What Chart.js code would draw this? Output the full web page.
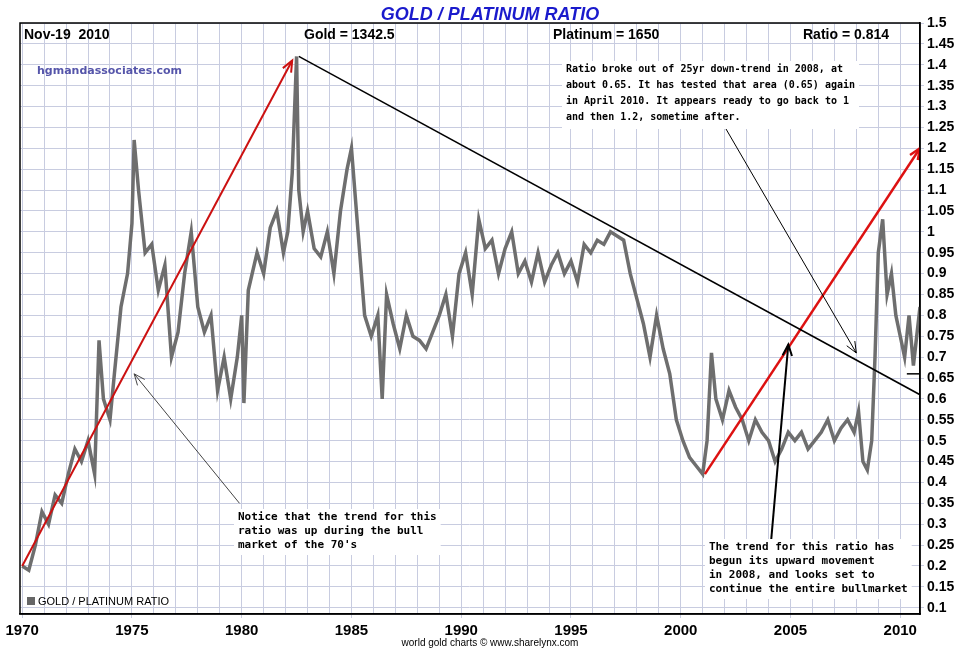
<!DOCTYPE html>
<html><head><meta charset="utf-8">
<script src="https://cdn.jsdelivr.net/npm/chart.js@4"></script>
<style>body{margin:0;background:#fff}canvas{display:block}</style>
</head><body>
<canvas id="c" width="980" height="650"></canvas>
<script>
// gold / platinum ratio
const years = [1970.0,1970.3,1970.6,1970.9,1971.2,1971.5,1971.8,1972.1,1972.4,1972.7,1973.0,1973.3,1973.5,1973.7,1974.0,1974.2,1974.5,1974.8,1975.0,1975.1,1975.3,1975.6,1975.9,1976.2,1976.5,1976.8,1977.1,1977.4,1977.7,1978.0,1978.3,1978.6,1978.9,1979.2,1979.5,1979.8,1980.0,1980.1,1980.3,1980.7,1981.0,1981.3,1981.6,1981.9,1982.1,1982.3,1982.5,1982.6,1982.8,1983.0,1983.3,1983.6,1983.9,1984.2,1984.5,1984.8,1985.0,1985.3,1985.6,1985.9,1986.2,1986.4,1986.6,1986.9,1987.2,1987.5,1987.8,1988.1,1988.4,1988.7,1989.0,1989.3,1989.6,1989.9,1990.2,1990.5,1990.8,1991.1,1991.4,1991.7,1992.0,1992.3,1992.6,1992.9,1993.2,1993.5,1993.8,1994.1,1994.4,1994.7,1995.0,1995.3,1995.6,1995.9,1996.2,1996.5,1996.8,1997.1,1997.4,1997.7,1998.0,1998.3,1998.6,1998.9,1999.2,1999.5,1999.8,2000.1,2000.4,2000.7,2001.0,2001.2,2001.4,2001.6,2001.9,2002.2,2002.5,2002.8,2003.1,2003.4,2003.7,2004.0,2004.3,2004.6,2004.9,2005.2,2005.5,2005.8,2006.1,2006.4,2006.7,2007.0,2007.3,2007.6,2007.9,2008.1,2008.3,2008.5,2008.7,2008.85,2009.0,2009.2,2009.4,2009.6,2009.8,2010.0,2010.2,2010.4,2010.6,2010.75,2010.9];
const ratio = [0.20,0.19,0.25,0.33,0.30,0.37,0.35,0.42,0.48,0.45,0.50,0.42,0.74,0.60,0.55,0.66,0.82,0.90,1.02,1.22,1.10,0.95,0.97,0.86,0.92,0.70,0.76,0.90,1.00,0.82,0.76,0.80,0.62,0.70,0.60,0.70,0.80,0.59,0.86,0.95,0.90,1.01,1.05,0.95,1.00,1.14,1.42,1.10,1.00,1.05,0.96,0.94,1.00,0.90,1.05,1.15,1.20,1.00,0.80,0.75,0.80,0.60,0.85,0.78,0.72,0.80,0.75,0.74,0.72,0.76,0.80,0.85,0.75,0.90,0.95,0.85,1.03,0.96,0.98,0.90,0.96,1.00,0.90,0.93,0.88,0.95,0.88,0.92,0.95,0.90,0.93,0.88,0.97,0.95,0.98,0.97,1.00,0.99,0.98,0.90,0.84,0.78,0.70,0.80,0.72,0.66,0.55,0.50,0.46,0.44,0.42,0.50,0.71,0.60,0.55,0.62,0.58,0.55,0.50,0.55,0.52,0.50,0.45,0.48,0.52,0.50,0.52,0.48,0.50,0.52,0.55,0.50,0.53,0.55,0.52,0.57,0.45,0.43,0.50,0.70,0.95,1.03,0.85,0.90,0.80,0.75,0.70,0.80,0.68,0.75,0.82,0.79,0.81];
const yearTicks = [1970,1975,1980,1985,1990,1995,2000,2005,2010];

const notes = {
  id: 'notes',
  afterDatasetsDraw(chart) {
    const c = chart.ctx, x = chart.scales.x, y = chart.scales.y, a = chart.chartArea;
    const P = (yr, v) => [x.getPixelForValue(yr), y.getPixelForValue(v)];
    c.save();
    c.beginPath(); c.rect(a.left, a.top, a.right - a.left, a.bottom - a.top); c.clip();
    function seg(p, q, col, w, head) {
      c.strokeStyle = col; c.lineWidth = w;
      c.beginPath(); c.moveTo(p[0], p[1]); c.lineTo(q[0], q[1]); c.stroke();
      if (head) {
        const ang = Math.atan2(q[1] - p[1], q[0] - p[0]);
        c.beginPath();
        c.moveTo(q[0] - 12 * Math.cos(ang - 0.4), q[1] - 12 * Math.sin(ang - 0.4));
        c.lineTo(q[0], q[1]);
        c.lineTo(q[0] - 12 * Math.cos(ang + 0.4), q[1] - 12 * Math.sin(ang + 0.4));
        c.stroke();
      }
    }
    seg(P(1970, 0.2), P(1982.3, 1.41), '#cc1111', 2, true);
    seg(P(2001.1, 0.42), P(2010.9, 1.2), '#dd1111', 2.5, true);
    seg(P(1982.6, 1.42), P(2010.9, 0.61), '#000', 1.5, false);
    seg(P(1979.9, 0.35), P(1975.1, 0.66), '#444', 1, true);
    seg(P(2001.8, 1.27), P(2008.0, 0.71), '#000', 1, true);
    seg(P(2004.1, 0.25), P(2004.9, 0.73), '#000', 2, true);
    seg(P(2010.3, 0.66), P(2010.9, 0.66), '#000', 1.5, false);

    c.font = 'bold 11px "DejaVu Sans Mono"'; c.textBaseline = 'top';
    function box(px, py, lines, lh) {
      const w = Math.max(...lines.map(l => c.measureText(l).width)) + 8;
      c.fillStyle = '#fff'; c.fillRect(px - 4, py - 3, w, lines.length * lh + 4);
      c.fillStyle = '#000';
      lines.forEach((l, i) => c.fillText(l, px, py + i * lh));
    }
    box(238, 512, ['Notice that the trend for this', 'ratio was up during the bull', "market of the 70's"], 14);
    box(709, 542, ['The trend for this ratio has', 'begun its upward movement', 'in 2008, and looks set to', 'continue the entire bullmarket'], 14);
    c.font = 'bold 10px "DejaVu Sans Mono"';
    box(566, 64, ['Ratio broke out of 25yr down-trend in 2008, at', 'about 0.65. It has tested that area (0.65) again', 'in April 2010. It appears ready to go back to 1', 'and then 1.2, sometime after.'], 16);

    c.fillStyle = '#5555aa'; c.font = 'bold 11px "DejaVu Sans"';
    c.fillText('hgmandassociates.com', 37, 66);
    c.fillStyle = '#000'; c.font = 'bold 14px "Liberation Sans"';
    c.fillText('Nov-19  2010', 24, 28);
    c.fillText('Gold = 1342.5', 304, 28);
    c.fillText('Platinum = 1650', 553, 28);
    c.fillText('Ratio = 0.814', 803, 28);
    c.fillStyle = '#666'; c.fillRect(27, 597, 8, 8);
    c.fillStyle = '#000'; c.font = '11px "Liberation Sans"';
    c.fillText('GOLD / PLATINUM RATIO', 38, 596);
    c.restore();
    c.save();
    c.strokeStyle = '#000'; c.lineWidth = 1.5;
    c.strokeRect(a.left, a.top, a.right - a.left, a.bottom - a.top);
    c.fillStyle = '#1a1acc'; c.font = 'italic bold 18px "Liberation Sans"'; c.textAlign = 'center';
    c.fillText('GOLD / PLATINUM RATIO', 490, 20);
    c.fillStyle = '#000'; c.font = '10px "Liberation Sans"';
    c.fillText('world gold charts \u00a9 www.sharelynx.com', 490, 646);
    c.restore();
  }
};

new Chart(document.getElementById('c'), {
  type: 'line',
  data: {
    datasets: [{
      data: years.map((yr, i) => ({ x: yr, y: ratio[i] })),
      borderColor: '#6e6e6e', borderWidth: 3.5, pointRadius: 0, tension: 0
    }]
  },
  options: {
    responsive: false, animation: false,
    layout: { padding: { left: 20, top: 23, right: 0, bottom: 0 } },
    plugins: { legend: { display: false }, tooltip: { enabled: false } },
    scales: {
      x: {
        type: 'linear', min: 1969.9, max: 2010.9,
        afterBuildTicks: s => { s.ticks = yearTicks.map(v => ({ value: v })); },
        afterFit: s => { s.height = 36; },
        grid: { color: '#c8cce0', drawTicks: true, tickLength: 4 },
        border: { color: '#000', width: 1.5 },
        ticks: { color: '#000', font: { family: 'Liberation Sans', size: 15, weight: 'bold' }, maxRotation: 0, padding: 4, callback: v => String(v) }
      },
      x2: {
        type: 'linear', min: 1969.9, max: 2010.9, display: true, position: 'bottom',
        afterBuildTicks: s => { const t = []; for (let v = 1970; v <= 2010; v++) t.push({ value: v }); s.ticks = t; },
        afterFit: s => { s.height = 0; },
        grid: { color: '#c8cce0', drawTicks: false },
        border: { display: false },
        ticks: { display: false }
      },
      y: {
        position: 'right', min: 0.085, max: 1.5,
        afterBuildTicks: s => { const t = []; for (let k = 2; k <= 30; k++) t.push({ value: k / 20 }); s.ticks = t; },
        afterFit: s => { s.width = 60; },
        grid: { color: '#c8cce0', tickLength: 4 },
        border: { color: '#000', width: 1.5 },
        ticks: { color: '#000', font: { family: 'Liberation Sans', size: 14, weight: 'bold' }, padding: 3, callback: v => +v.toFixed(2) }
      }
    }
  },
  plugins: [notes]
});
</script>
</body></html>
